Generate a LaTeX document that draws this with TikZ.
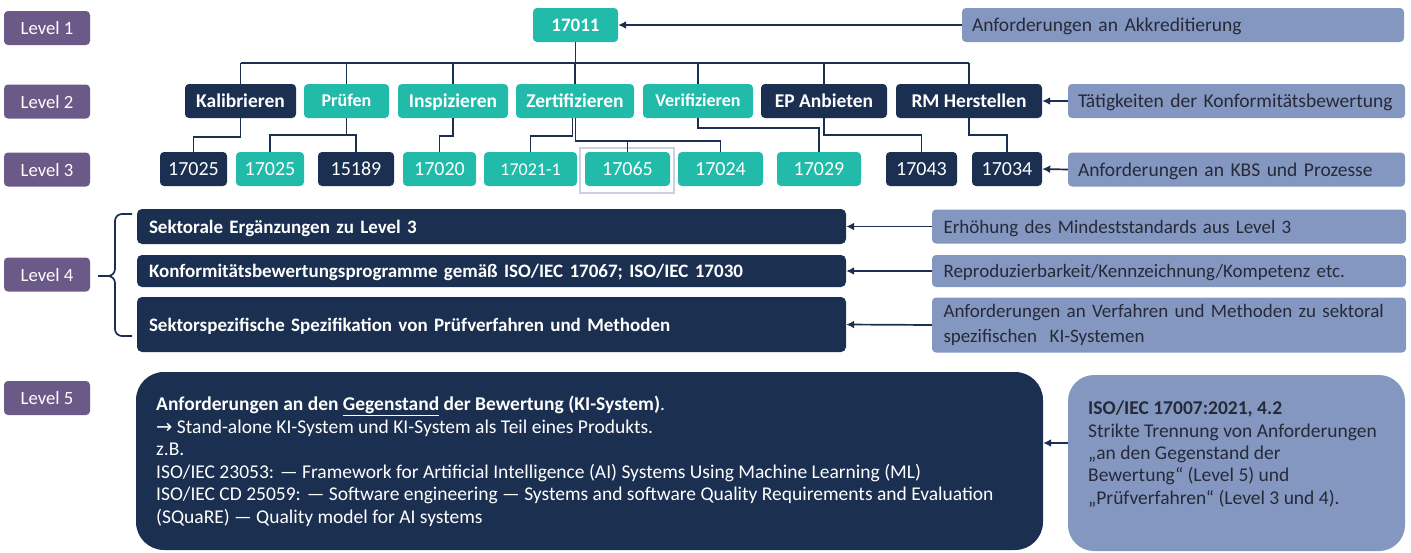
\documentclass[tikz,border=0pt]{standalone}
\usepackage{fontspec}
\setmainfont{Carlito}
\newfontfamily\arrowfont{DejaVu Sans}
\usetikzlibrary{arrows.meta}
\definecolor{lvl}{HTML}{6B5A88}
\definecolor{tealc}{HTML}{22BBAA}
\definecolor{navyc}{HTML}{1B2F50}
\definecolor{notec}{HTML}{8497C0}
\definecolor{notetxt}{HTML}{262A38}
\definecolor{framec}{HTML}{C9D0E3}
\begin{document}
\begin{tikzpicture}[x=1pt,y=-1pt,
  base/.style={rounded corners=4pt, inner sep=0pt, text height=13pt, text depth=-1pt},
  lvlbox/.style={base, fill=lvl, text=white, minimum width=86pt, minimum height=34pt, font=\fontsize{18.7}{22}\selectfont},
  tbold/.style={base, fill=tealc, text=white, minimum height=34pt, font=\bfseries\fontsize{19.5}{23}\selectfont},
  nbold/.style={base, fill=navyc, text=white, minimum height=34pt, font=\bfseries\fontsize{19.5}{23}\selectfont},
  tnum/.style={base, fill=tealc, text=white, minimum height=34pt, font=\fontsize{20}{23}\selectfont},
  nnum/.style={base, fill=navyc, text=white, minimum height=34pt, font=\fontsize{20}{23}\selectfont},
  notebox/.style={base, fill=notec, text=notetxt, minimum height=34pt, font=\fontsize{19.5}{23}\selectfont, align=left, inner xsep=10pt},
  secbox/.style={rounded corners=5pt, inner sep=0pt, inner xsep=12pt, fill=navyc, text=white, font=\bfseries\fontsize{19}{23}\selectfont, align=left, text width=685pt, text height=13pt, text depth=-2pt},
  tree/.style={draw=navyc, line width=1.7pt},
  arr/.style={draw=navyc, line width=1.7pt, -{Latex[length=8pt,width=8pt]}}
]
\useasboundingbox (0,0) rectangle (1411,552);

% level labels
\node[lvlbox] (L1) at (47,28) {Level 1};
\node[lvlbox] (L2) at (47,101.5) {Level 2};
\node[lvlbox] (L3) at (47,169.5) {Level 3};
\node[lvlbox] (L4) at (47,274.5) {Level 4};
\node[lvlbox] (L5) at (47,398) {Level 5};

% level 1
\node[tbold, minimum width=85pt, font=\bfseries\fontsize{19}{23}\selectfont] (top) at (575.5,25) {17011};
\node[notebox, minimum width=442pt, text width=422pt] (nA) at (1183,25) {Anforderungen an Akkreditierung};

% level 2
\node[nbold, minimum width=111pt] (kal) at (240.5,101) {Kalibrieren};
\node[tbold, minimum width=85pt, font=\bfseries\fontsize{18}{22}\selectfont, text depth=3pt] (pru) at (346.5,101) {Prüfen};
\node[tbold, minimum width=110pt] (insp) at (453,101) {Inspizieren};
\node[tbold, minimum width=118pt] (zert) at (575,101) {Zertifizieren};
\node[tbold, minimum width=110pt, font=\bfseries\fontsize{18}{22}\selectfont, text depth=3pt] (veri) at (698,101) {Verifizieren};
\node[nbold, minimum width=126pt] (ep) at (824,101) {EP Anbieten};
\node[nbold, minimum width=146pt] (rm) at (969,101) {RM Herstellen};
\node[notebox, minimum width=337pt, text width=317pt] (nB) at (1236.5,101) {Tätigkeiten der Konformitätsbewertung};

% level 3
\node[draw=framec, line width=1.5pt, minimum width=94pt, minimum height=45pt, inner sep=0pt] (frame) at (627,170.5) {};
\node[nnum, minimum width=67pt] (a1) at (193.5,169) {17025};
\node[tnum, minimum width=68pt] (a2) at (270,169) {17025};
\node[nnum, minimum width=76pt] (a3) at (356,169) {15189};
\node[tnum, minimum width=73pt] (a4) at (439.5,169) {17020};
\node[tnum, minimum width=93pt, font=\fontsize{18}{22}\selectfont] (a5) at (530.5,169) {17021-1};
\node[tnum, minimum width=85pt] (a6) at (627.5,169) {17065};
\node[tnum, minimum width=85pt] (a7) at (720.5,169) {17024};
\node[tnum, minimum width=84pt] (a8) at (819,169) {17029};
\node[nnum, minimum width=71pt] (a9) at (921.5,169) {17043};
\node[nnum, minimum width=70pt] (a10) at (1007,169) {17034};
\node[notebox, minimum width=337pt, text width=317pt] (nC) at (1236.5,169.5) {Anforderungen an KBS und Prozesse};

% tree level 1 -> 2
\coordinate (bus) at (575.5,63);
\draw[tree] (top.south) -- (bus);
\draw[tree] (kal.north |- bus) -- (rm.north |- bus);
\foreach \n in {kal,pru,insp,zert,veri,ep,rm} \draw[tree] (\n.north |- bus) -- (\n.north);

% tree level 2 -> 3
\draw[tree] (kal.south) -- ++(0,19) -| (a1.north);
\coordinate (pbar) at (0,135);
\draw[tree] (pru.south) -- (pru.south |- pbar);
\draw[tree] (a2.north) -- (a2.north |- pbar) -- (a3.north |- pbar) -- (a3.north);
\draw[tree] (insp.south) -- ++(0,18) -| (a4.north);
\draw[tree] ([xshift=-2.5pt]zert.south) -- ++(0,18) -| (a5.north);
\coordinate (zbar) at (0,141);
\draw[tree] ([xshift=0.5pt]zert.south) -- ([xshift=0.5pt]zert.south |- zbar) -| (a7.north);
\draw[tree] (a6.north |- zbar) -- (a6.north);
\draw[tree] (veri.south) -- ++(0,10) -| (a8.north);
\draw[tree] (ep.south) -- ++(0,17) -| (a9.north);
\draw[tree] (rm.south) -- ++(0,17) -| (a10.north);

% arrows to levels 1-3
\draw[arr] (nA.west) -- (top.east);
\draw[arr] (nB.west) -- (rm.east);
\draw[arr] (nC.west) -- (a10.east);

% level 4
\node[secbox, minimum height=35pt] (s1) at (491.5,226.5) {Sektorale Ergänzungen zu Level 3};
\node[secbox, minimum height=32pt] (s2) at (491.5,271) {Konformitätsbewertungsprogramme gemäß ISO/IEC 17067; ISO/IEC 17030};
\node[secbox, minimum height=55pt] (s3) at (491.5,324.5) {Sektorspezifische Spezifikation von Prüfverfahren und Methoden};

\node[notebox, minimum width=474pt, text width=451pt, inner xsep=11.5pt, minimum height=34pt, font=\fontsize{19}{23}\selectfont, text depth=-1.5pt] (nD) at (1169,226.5) {Erhöhung des Mindeststandards aus Level 3};
\node[notebox, minimum width=474pt, text width=451pt, inner xsep=11.5pt, minimum height=32pt, font=\fontsize{19}{23}\selectfont, text depth=-1.5pt] (nE) at (1169,271) {Reproduzierbarkeit/Kennzeichnung/Kompetenz etc.};
\node[notebox, minimum width=474pt, text width=451pt, inner xsep=11.5pt, minimum height=55pt, font=\fontsize{19}{25}\selectfont, text height=, text depth=] (nF) at (1169,325) {Anforderungen an Verfahren und Methoden zu sektoral\\spezifischen\ \ KI-Systemen};

\draw[arr] (nD.west) -- (s1.east);
\draw[arr] (nE.west) -- (s2.east);
\draw[arr] (nF.west) -- (s3.east);

% brace
\draw[tree, rounded corners=7pt] (132,214) -- (115,214) -- (115,276) -- (98,276);
\draw[tree, rounded corners=7pt] (132,336) -- (115,336) -- (115,276) -- (98,276);

% level 5
\node[fill=navyc, rounded corners=28pt, minimum width=907pt, minimum height=178pt, inner sep=0pt] (big) at (589.5,461) {};
\node[anchor=west, text=white, align=left, inner sep=0pt, font=\fontsize{19.5}{22.5}\selectfont] (bigtxt) at (156,461.5) {%
{\bfseries Anforderungen an den \underline{Gegenstand} der Bewertung (KI-System)}.\\
{\arrowfont\fontsize{19.5}{22.5}\selectfont →} Stand-alone KI-System und KI-System als Teil eines Produkts.\\
z.B.\\
ISO/IEC 23053: — Framework for Artificial Intelligence (AI) Systems Using Machine Learning (ML)\\
ISO/IEC CD 25059: — Software engineering — Systems and software Quality Requirements and Evaluation\\
(SQuaRE) — Quality model for AI systems};

\node[fill=notec, rounded corners=26pt, minimum width=337pt, minimum height=176pt, inner sep=0pt] (iso) at (1236.5,463) {};
\node[anchor=north west, text=notetxt, align=left, inner sep=0pt, font=\fontsize{19.5}{22.3}\selectfont] (isotxt) at (1088,401) {%
{\bfseries ISO/IEC 17007:2021, 4.2}\\
Strikte Trennung von Anforderungen\\
„an den Gegenstand der\\
Bewertung“ (Level 5) und\\
„Prüfverfahren“ (Level 3 und 4).};

\draw[arr] (iso.west |- 0,443) -- (big.east |- 0,443);
\end{tikzpicture}
\end{document}
